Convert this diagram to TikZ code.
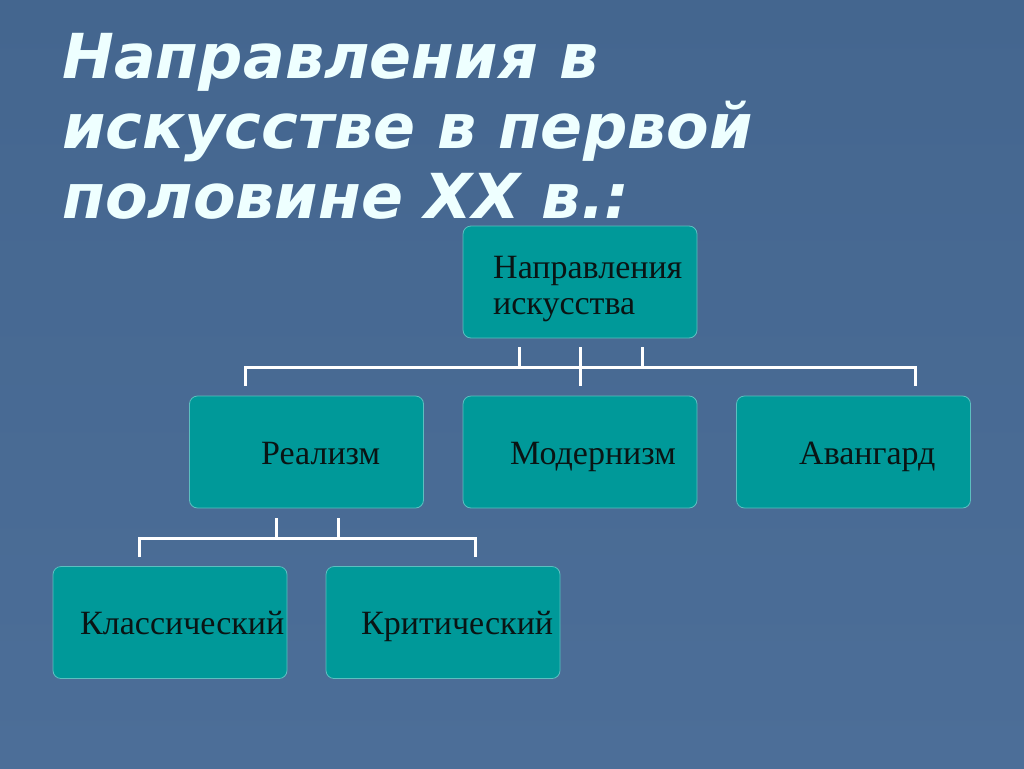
\documentclass[tikz,border=0pt]{standalone}
\usepackage{fontspec}
\setmainfont{Liberation Serif}
\newfontfamily\titlefont{DejaVu Sans}
\definecolor{bgblue}{HTML}{4C6E98}
\definecolor{bgtop}{HTML}{44668F}
\definecolor{boxfill}{HTML}{009999}
\definecolor{boxline}{HTML}{5CBFC0}
\definecolor{titlecol}{HTML}{EEFFFF}
\definecolor{boxtext}{HTML}{0A1414}
\begin{document}
\begin{tikzpicture}[x=1pt,y=-1pt,
  box/.style={draw=boxline,line width=0.8pt,fill=boxfill,rounded corners=8pt,
    minimum width=234pt,minimum height=112pt,inner sep=0pt},
  lbl/.style={anchor=base west,inner sep=0pt,text=boxtext,font=\fontsize{34}{36}\selectfont},
  conn/.style={draw=white,line width=3pt},
  ttl/.style={anchor=base west,inner sep=0pt,text=titlecol,
    font=\titlefont\bfseries\itshape\fontsize{62}{70}\selectfont}]
\useasboundingbox (0,0) rectangle (1024,768);
\shade[top color=bgtop,bottom color=bgblue] (0,0) rectangle (1024,768);
% title
\node[ttl] (t1) at (62,78) {Направления в};
\node[ttl] (t2) at (62,148) {искусстве в первой};
\node[ttl] (t3) at (62,218) {половине XX в.:};
% boxes
\node[box] (top) at (580,282) {};
\node[box] (real) at (306.5,452) {};
\node[box] (mod) at (580,452) {};
\node[box] (avg) at (853.5,452) {};
\node[box] (klas) at (170,622.5) {};
\node[box] (krit) at (443,622.5) {};
% labels
\node[lbl] (ltop1) at (493,278) {Направления};
\node[lbl] (ltop2) at (493,314) {искусства};
\node[lbl] (lreal) at (261,464) {Реализм};
\node[lbl] (lmod) at (510,464) {Модернизм};
\node[lbl] (lavg) at (799,464) {Авангард};
\node[lbl] (lklas) at (80,634) {Классический};
\node[lbl] (lkrit) at (361,634) {Критический};
% connectors level 1
\coordinate (h1l) at (245,367);
\coordinate (h1r) at (915,367);
\draw[conn] (h1l |- real.north) ++(0,-10) -- (h1l) -- (h1r) -- ++(0,19);
\draw[conn] (519,347) -- (519,367);
\draw[conn] (642,347) -- (642,367);
\draw[conn] (top.south) ++(0,9) -- (580,386);
% connectors level 2
\coordinate (h2l) at (139,538);
\coordinate (h2r) at (475,538);
\draw[conn] (139,557) -- (h2l) -- (h2r) -- (475,557);
\draw[conn] (276,518) -- (276,538);
\draw[conn] (338,518) -- (338,538);
\end{tikzpicture}
\end{document}
